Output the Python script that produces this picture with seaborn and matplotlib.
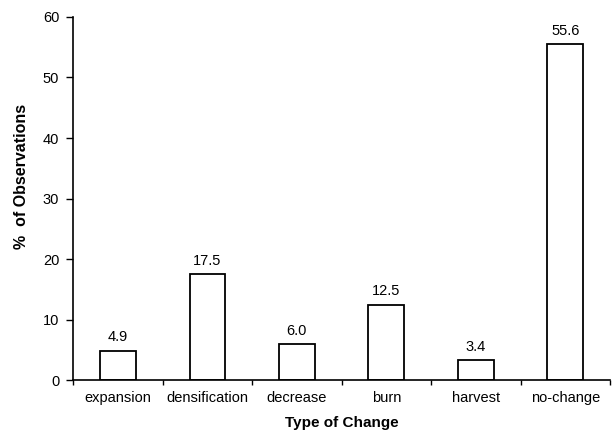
import matplotlib
matplotlib.use("Agg")
import matplotlib.pyplot as plt
import seaborn as sns
import numpy as np
import pandas as pd

categories = ["expansion", "densification", "decrease", "burn", "harvest", "no-change"]
percent = [4.9, 17.5, 6.0, 12.5, 3.4, 55.6]

df = pd.DataFrame({"change": categories, "pct": percent})

sns.set_style("ticks")
plt.rcParams["font.family"] = ["Liberation Sans", "DejaVu Sans"]
plt.rcParams["text.color"] = "black"
plt.rcParams["axes.labelcolor"] = "black"
plt.rcParams["xtick.color"] = "black"
plt.rcParams["ytick.color"] = "black"

fig = plt.figure(figsize=(6.15, 4.34), dpi=100)
ax = fig.add_axes([0.119, 0.124, 0.873, 0.837])

sns.barplot(data=df, x="change", y="pct", color="white", edgecolor="black",
            linewidth=1.3, width=0.4, ax=ax)

for i, v in enumerate(percent):
    ax.text(i, v + 1.0, f"{v:.1f}", ha="center", va="bottom", fontsize=10.5)

ax.set_xlim(-0.5, 5.5)
ax.set_ylim(0, 60)
ax.set_yticks(np.arange(0, 61, 10))
ax.set_xticks(np.arange(-0.5, 6, 1))
ax.set_xticklabels([])
ax.set_xticks(range(len(categories)), minor=True)
ax.set_xticklabels(categories, minor=True, fontsize=10.5)
ax.tick_params(axis="x", which="minor", length=0, pad=8)
ax.tick_params(axis="x", which="major", length=3.5, width=1)
ax.tick_params(axis="y", length=5, width=1, labelsize=10.5, pad=5)

for s in ["left", "bottom"]:
    ax.spines[s].set_linewidth(1.2)
    ax.spines[s].set_color("black")
sns.despine(ax=ax)

ax.set_xlabel("Type of Change", fontsize=11, fontweight="bold", labelpad=8)
ax.set_ylabel("%  of Observations", fontsize=11.5, fontweight="bold")
ax.yaxis.set_label_coords(-0.083, 0.56)

fig.savefig("out.png", dpi=100)
